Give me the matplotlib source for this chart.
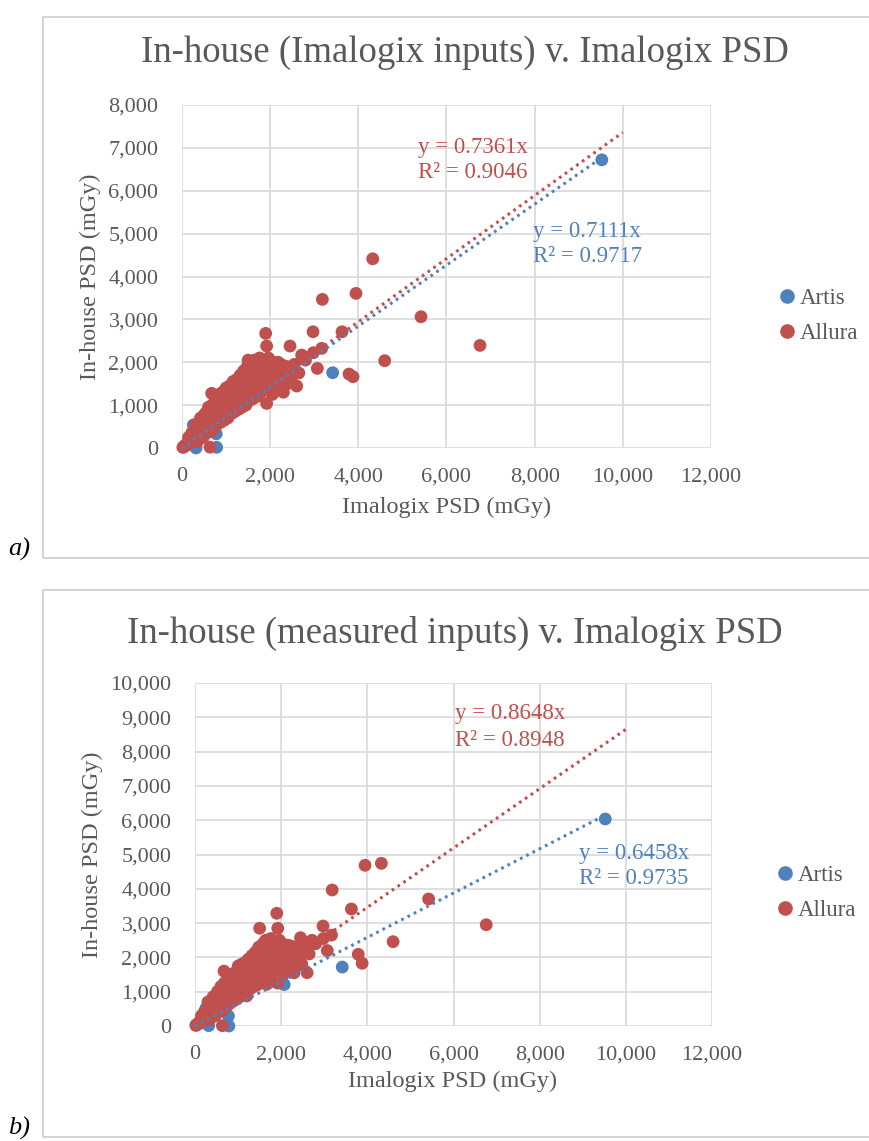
import matplotlib
matplotlib.use("Agg")
import matplotlib.pyplot as plt
from matplotlib.patches import Rectangle
from matplotlib.lines import Line2D
from matplotlib.ticker import FuncFormatter, MultipleLocator

# ---------------- data ----------------
series_names = ["Artis", "Allura"]

# Artis (blue) — Imalogix PSD (x), in-house PSD with Imalogix inputs (ya), measured inputs (yb)
artis_x = [30, 120, 257, 318, 333, 786, 776, 2070, 3418, 9523]
artis_ya = [20, 90, 536, 0, 536, 16, 330, 1450, 1756, 6721]
artis_yb = [25, 80, 520, 10, 560, 0, 290, 1210, 1718, 6035]

# Allura (red)
allura_x = [20, 45, 60, 80, 95, 110, 130, 150, 165, 180, 200, 215, 230, 250, 270, 285,
            300, 320, 340, 360, 375, 390, 410, 430, 450, 470, 490, 510, 530, 550, 570,
            590, 610, 630, 650, 673, 690, 710, 730, 750, 770, 790, 810, 830, 850, 870,
            890, 910, 930, 950, 970, 990, 1010, 1030, 1050, 1070, 1090, 1110, 1130, 1150,
            1170, 1190, 1210, 1230, 1250, 1270, 1290, 1310, 1330, 1350, 1380, 1410, 1440,
            1470, 1500, 1530, 1560, 1590, 1620, 1650, 1680, 1710, 1740, 1770, 1800, 1830,
            1860, 1898, 1920, 1950, 1980, 2010, 2040, 2080, 2120, 2160, 2200, 2250, 2300,
            2350, 2400, 2450, 2500, 2602, 2715, 2972, 2979, 3070, 3169, 3184, 3630, 3789,
            3880, 3947, 4326, 4598, 5422, 6760, 635, 1920, 1200, 1664, 1005, 1500,
            300, 350, 420, 480, 520, 560, 600, 640, 680, 720, 760, 800, 840, 880, 920,
            960, 1000, 1040, 1080, 1120, 1160, 1200, 1240, 1280, 1320, 1360, 1400, 1450,
            1480, 1520, 1580, 1610, 1640, 1700, 1730, 1760, 1790, 1840, 1880, 1900, 1960,
            2000, 2060, 2100, 2140, 2180, 2230, 2280, 2320, 2380, 2430, 2480, 2550, 2650,
            2800, 1250, 1450, 1650, 1850, 2050, 150, 220, 260, 330, 400, 460, 540, 620]
allura_ya = [15, 40, 35, 70, 60, 100, 85, 140, 120, 170, 150, 210, 180, 230, 200, 270,
             240, 310, 280, 350, 300, 400, 330, 440, 380, 480, 410, 520, 450, 600, 480,
             560, 650, 520, 700, 1275, 600, 760, 640, 820, 700, 900, 740, 960, 780, 1050,
             820, 1000, 860, 1100, 900, 1180, 950, 1080, 1250, 1000, 1150, 1300, 1050, 1200,
             1350, 1100, 1250, 1420, 1150, 1300, 1500, 1200, 1350, 1560, 1250, 1420, 1650,
             1300, 1480, 1750, 1350, 1550, 1850, 1400, 1620, 1950, 1500, 1700, 2000, 1550,
             1800, 2673, 2378, 1650, 1900, 1450, 1750, 2000, 1600, 1850, 1350, 1950, 1300,
             1700, 1500, 2378, 1800, 1445, 2168, 2711, 2222, 1857, 2324, 3466, 2711, 1725,
             1662, 3606, 4413, 2036, 3061, 2393, 20, 1040, 900, 1300, 1320, 2050,
             550, 150, 700, 250, 800, 350, 950, 380, 1000, 450, 1150, 550, 1250, 600, 1300,
             650, 1400, 700, 1450, 800, 1550, 850, 1600, 900, 1700, 950, 1800, 1000,
             1900, 1100, 1950, 1150, 2050, 1200, 1850, 2100, 1300, 2050, 1400, 1950, 2100,
             1700, 1500, 1900, 1400, 2000, 1700, 1800, 1550, 1900, 1650, 1550, 1950, 1750,
             2050, 1050, 1250, 1600, 1750, 1250, 250, 350, 150, 500, 600, 250, 650, 450]
allura_yb = [18, 50, 45, 85, 80, 120, 110, 170, 150, 200, 190, 250, 220, 280, 250, 320,
             300, 370, 340, 420, 370, 470, 410, 520, 460, 570, 500, 620, 540, 700, 580,
             670, 770, 620, 820, 1600, 720, 900, 760, 970, 840, 1060, 880, 1130, 930, 1240,
             980, 1180, 1030, 1300, 1070, 1400, 1130, 1280, 1480, 1190, 1360, 1560, 1250, 1420,
             1600, 1310, 1480, 1700, 1360, 1540, 1780, 1420, 1600, 1850, 1480, 1690, 1950,
             1550, 1760, 2080, 1600, 1840, 2200, 1660, 1920, 2300, 1780, 2020, 2380, 1840,
             2130, 3286, 2850, 1960, 2250, 1720, 2080, 2370, 1900, 2200, 1600, 2320, 1550,
             2020, 1780, 2574, 2130, 1554, 2500, 2915, 2550, 2200, 2650, 3965, 3411, 2090,
             1828, 4685, 4743, 2458, 3703, 2953, 10, 1250, 875, 1215, 1750, 2850,
             700, 200, 850, 320, 1000, 420, 1150, 450, 1250, 540, 1400, 650, 1500, 720, 1550,
             780, 1700, 850, 1800, 960, 1850, 1000, 1950, 1080, 2050, 1150, 2150, 1200,
             2300, 1300, 2400, 1350, 2500, 1450, 2250, 2550, 1550, 2450, 1650, 2300, 2500,
             1950, 1800, 2300, 1650, 2350, 2000, 2150, 1850, 2250, 1950, 1800, 2300, 2100,
             2400, 1250, 1500, 1900, 2100, 1500, 300, 420, 180, 600, 720, 300, 780, 540]

# trendline slopes / R² as labelled in the chart, and trendline extent
slope_a = {"Artis": 0.7111, "Allura": 0.7361}
r2_a = {"Artis": 0.9717, "Allura": 0.9046}
slope_b = {"Artis": 0.6458, "Allura": 0.8648}
r2_b = {"Artis": 0.9735, "Allura": 0.8948}
trend_end = {"Artis": 9523, "Allura": 10000}

titles = ["In-house (Imalogix inputs) v. Imalogix PSD",
          "In-house (measured inputs) v. Imalogix PSD"]
xlabel = "Imalogix PSD (mGy)"
ylabel = "In-house PSD (mGy)"
panel_tags = ["a)", "b)"]

# ---------------- style ----------------
BLUE = "#4F81BD"
RED = "#C0504D"
GRAY = "#595959"
GRID = "#D9D9D9"
FONT = "Liberation Serif"
plt.rcParams["font.family"] = [FONT, "DejaVu Serif"]

W, H = 869, 1141
fig = plt.figure(figsize=(W / 100, H / 100), dpi=100)


def fx(px):
    return px / W


def fy(py):
    return 1 - py / H


fmt = FuncFormatter(lambda v, p: f"{int(round(v)):,}")

panels = [
    dict(box=(43, 17, 558), ax=(182, 711, 105, 448), ymax=8000, ya=(artis_ya, allura_ya),
         slopes=slope_a, r2=r2_a, title_xy=(465, 53), xl_xy=(447, 507), yl_xy=(90, 277),
         eq_red=(418, 147, 172), eq_blue=(533, 232, 256), leg=(764, 316), tag_y=549),
    dict(box=(43, 590, 1137), ax=(195, 712, 683, 1026), ymax=10000, ya=(artis_yb, allura_yb),
         slopes=slope_b, r2=r2_b, title_xy=(455, 633), xl_xy=(453, 1081), yl_xy=(92, 855),
         eq_red=(455, 714, 740), eq_blue=(579, 853, 878), leg=(762, 893), tag_y=1128),
]

for i, P in enumerate(panels):
    bx0, by0, by1 = P["box"]
    fig.patches.append(Rectangle((fx(bx0), fy(by1)), fx(W + 10) - fx(bx0), fy(by0) - fy(by1),
                                 transform=fig.transFigure, fill=False, edgecolor="#D0D0D0",
                                 linewidth=1.3))
    l, r, t, b = P["ax"]
    ax = fig.add_axes([fx(l), fy(b), fx(r) - fx(l), fy(t) - fy(b)])
    ax.set_xlim(0, 12000)
    ax.set_ylim(0, P["ymax"])
    ax.xaxis.set_major_locator(MultipleLocator(2000))
    ax.yaxis.set_major_locator(MultipleLocator(1000))
    ax.xaxis.set_major_formatter(fmt)
    ax.yaxis.set_major_formatter(fmt)
    ax.grid(True, color=GRID, linewidth=1.2)
    ax.set_axisbelow(True)
    for s in ax.spines.values():
        s.set_visible(False)
    ax.tick_params(length=0, labelsize=16, labelcolor=GRAY)
    ax.tick_params(axis="y", pad=17)
    ax.tick_params(axis="x", pad=14)
    for lab in ax.get_xticklabels() + ax.get_yticklabels():
        lab.set_fontfamily(FONT)

    ya_art, ya_all = P["ya"]
    ax.scatter(artis_x, ya_art, s=85, color=BLUE, edgecolors="none", clip_on=False, zorder=3)
    ax.scatter(allura_x, ya_all, s=85, color=RED, edgecolors="none", clip_on=False, zorder=4)

    for name, col, z in (("Allura", RED, 5), ("Artis", BLUE, 6)):
        xe = trend_end[name]
        ax.plot([0, xe], [0, P["slopes"][name] * xe], color=col, linewidth=2.2,
                linestyle=(0, (0.9, 1.4)), zorder=z, clip_on=False)

    ex, ey1, ey2 = P["eq_red"]
    fig.text(fx(ex), fy(ey1), f"y = {P['slopes']['Allura']:.4f}x", color=RED,
             fontsize=16.5, ha="left", va="center")
    fig.text(fx(ex), fy(ey2), f"R² = {P['r2']['Allura']:.4f}", color=RED,
             fontsize=16.5, ha="left", va="center")
    ex, ey1, ey2 = P["eq_blue"]
    fig.text(fx(ex), fy(ey1), f"y = {P['slopes']['Artis']:.4f}x", color=BLUE,
             fontsize=16.5, ha="left", va="center")
    fig.text(fx(ex), fy(ey2), f"R² = {P['r2']['Artis']:.4f}", color=BLUE,
             fontsize=16.5, ha="left", va="center")

    fig.text(fx(P["title_xy"][0]), fy(P["title_xy"][1]), titles[i], color=GRAY,
             fontsize=26.5, ha="center", va="center")
    fig.text(fx(P["xl_xy"][0]), fy(P["xl_xy"][1]), xlabel, color=GRAY,
             fontsize=17.5, ha="center", va="center")
    fig.text(fx(P["yl_xy"][0]), fy(P["yl_xy"][1]), ylabel, color=GRAY,
             fontsize=17.5, ha="center", va="center", rotation=90)
    fig.text(fx(8), fy(P["tag_y"]), panel_tags[i], fontsize=19, style="italic",
             color="black", ha="left", va="center")

    handles = [Line2D([], [], marker="o", linestyle="none", color=c, markersize=9.5)
               for c in (BLUE, RED)]
    ax.legend(handles, series_names, loc="center left",
              bbox_to_anchor=(fx(P["leg"][0]), fy(P["leg"][1])),
              bbox_transform=fig.transFigure, frameon=False, fontsize=16.5,
              handletextpad=0.05, handlelength=1.0, labelspacing=0.6,
              labelcolor=GRAY, borderpad=0)

fig.savefig("out.png", dpi=100)
